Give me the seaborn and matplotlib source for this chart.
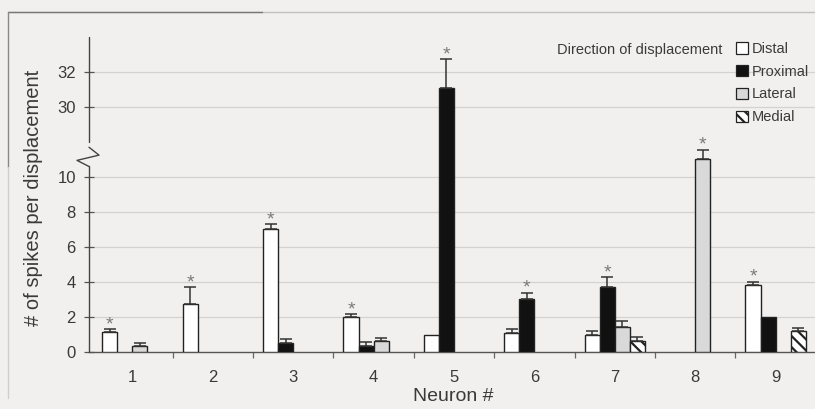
import numpy as np
import pandas as pd
import matplotlib
matplotlib.use("Agg")
import matplotlib.pyplot as plt
from matplotlib.patches import Patch
from matplotlib.lines import Line2D
import seaborn as sns

# ---- data -------------------------------------------------------------
neurons = ["1", "2", "3", "4", "5", "6", "7", "8", "9"]
directions = ["Distal", "Proximal", "Lateral", "Medial"]
nan = np.nan

distal = [1.15, 2.75, 7.0, 2.0, 1.0, 1.1, 1.0, nan, 3.85]
distal_err = [0.15, 0.95, 0.32, 0.16, nan, 0.2, 0.2, nan, 0.17]
proximal = [nan, nan, 0.53, 0.32, 31.07, 3.05, 3.7, nan, 2.0]
proximal_err = [nan, nan, 0.23, 0.28, 1.65, 0.34, 0.58, nan, nan]
lateral = [0.32, nan, nan, 0.64, nan, nan, 1.45, 11.0, nan]
lateral_err = [0.19, nan, nan, 0.16, nan, nan, 0.32, 0.57, nan]
medial = [nan, nan, nan, nan, nan, nan, 0.63, nan, 1.2]
medial_err = [nan, nan, nan, nan, nan, nan, 0.23, nan, 0.19]

# bars marked as significant (neuron, direction)
significant = [("1", "Distal"), ("2", "Distal"), ("3", "Distal"),
               ("4", "Distal"), ("5", "Proximal"), ("6", "Proximal"),
               ("7", "Proximal"), ("8", "Lateral"), ("9", "Distal")]

ytick_vals = [0, 2, 4, 6, 8, 10, 30, 32]

values = {"Distal": distal, "Proximal": proximal,
          "Lateral": lateral, "Medial": medial}
errors = {"Distal": distal_err, "Proximal": proximal_err,
          "Lateral": lateral_err, "Medial": medial_err}

rows = []
for d in directions:
    for n, v, e in zip(neurons, values[d], errors[d]):
        rows.append({"neuron": n, "direction": d, "value": v, "err": e})
df = pd.DataFrame(rows)

# ---- style ------------------------------------------------------------
BG = "#f2f0ef"
INK = "#3a3a3a"
sns.set_theme(style="white")
plt.rcParams["font.family"] = ["Liberation Sans", "DejaVu Sans"]
plt.rcParams["hatch.linewidth"] = 1.6
plt.rcParams["hatch.color"] = "#222222"

colors = {"Distal": "#ffffff", "Proximal": "#111111",
          "Lateral": "#d9d9d9", "Medial": "#ffffff"}

W, H = 815, 409
fig = plt.figure(figsize=(W / 100, H / 100), dpi=100, facecolor=BG)
ax = fig.add_axes([89 / W, 1 - 352 / H, 1 - 89 / W, (352 - 37) / H])
ax.set_facecolor(BG)

# broken y axis: values between LOW and HIGH are collapsed
LOW, HIGH = 11.7, 28.0
CUT = HIGH - LOW - 0.3


def fwd(v):
    v = np.asarray(v, dtype=float)
    return np.where(v <= LOW, v, np.where(v >= HIGH, v - CUT, LOW + (v - LOW) * 0.3 / (HIGH - LOW)))


def inv(t):
    t = np.asarray(t, dtype=float)
    return np.where(t <= LOW, t, np.where(t >= HIGH - CUT, t + CUT, LOW + (t - LOW) * (HIGH - LOW) / 0.3))


WIDTH = 0.75
sns.barplot(data=df, x="neuron", y="value", hue="direction",
            order=neurons, hue_order=directions, palette=colors,
            width=WIDTH, saturation=1, errorbar=None, legend=False,
            edgecolor="#222222", linewidth=1.0, ax=ax, zorder=3)

# hatch the medial bars
for patch in ax.containers[3]:
    patch.set_hatch("\\\\\\")
    patch.set_edgecolor("#222222")

ax.set_yscale("function", functions=(fwd, inv))
ax.set_ylim(0, 34)
ax.set_xlim(-0.54, 8.49)

# one-sided error bars and significance stars
bw = WIDTH / len(directions)
for j, d in enumerate(directions):
    off = (j - 1.5) * bw
    for i, n in enumerate(neurons):
        v = values[d][i]
        e = errors[d][i]
        if np.isnan(v):
            continue
        x = i + off
        top = v
        if not np.isnan(e):
            ax.errorbar([x], [v], yerr=[[0], [e]], fmt="none",
                        ecolor="#333333", elinewidth=1.1, capsize=4.3,
                        capthick=1.1, zorder=4)
            top = v + e
        if (n, d) in significant:
            ax.annotate("*", xy=(x, top), xytext=(0, -3),
                        textcoords="offset points", ha="center",
                        va="bottom", fontsize=14, color="#7a7a7a",
                        zorder=5)

# faint horizontal grid
for yv in ytick_vals[1:]:
    ax.axhline(yv, color="#d4d2d1", lw=0.9, zorder=0)

# axes lines
for s in ["top", "right", "left"]:
    ax.spines[s].set_visible(False)
ax.spines["bottom"].set_color("#555555")
ax.spines["bottom"].set_linewidth(1.0)

ax.set_yticks(ytick_vals, labels=[str(v) for v in ytick_vals])
ax.tick_params(axis="y", which="major", direction="inout", length=7,
               width=0.9, color="#555555", pad=6, labelsize=12,
               labelcolor=INK, left=True)
ax.tick_params(axis="x", which="major", length=0, pad=13, labelsize=12,
               labelcolor=INK)
ax.set_xticks(np.arange(0.5, 8.5, 1.0), minor=True)
ax.tick_params(axis="x", which="minor", direction="out", length=4,
               width=0.9, color="#666666", bottom=True)

# left axis drawn in two pieces with a zigzag break
trans = ax.get_yaxis_transform()
dx = 1.0 / (W - 89)
ax.add_line(Line2D([0, 0], [0, 10.6], transform=trans, color="#444444",
                   lw=1.0, clip_on=False, zorder=6))
ax.add_line(Line2D([0, 10 * dx, -12 * dx, 0], [LOW, 11.25, 10.95, 10.6],
                   transform=trans, color="#444444", lw=1.0,
                   clip_on=False, zorder=6))
ax.add_line(Line2D([0, 0], [HIGH, 34], transform=trans, color="#444444",
                   lw=1.0, clip_on=False, zorder=6))

ax.set_xlabel("Neuron #", fontsize=14, color=INK)
ax.xaxis.set_label_coords((453 - 89) / (W - 89), (352 - 388) / 315)
ax.set_ylabel("# of spikes per displacement", fontsize=14.5, color=INK)
ax.yaxis.set_label_coords((43 - 89) / (W - 89), 0.489)

# legend
handles = [Patch(facecolor=colors[d], edgecolor="#222222", linewidth=0.9,
                 hatch="\\\\\\" if d == "Medial" else None)
           for d in directions]
leg = fig.legend(handles, directions, loc="upper left",
                 bbox_to_anchor=(736 / W, 1 - 42 / H),
                 bbox_transform=fig.transFigure, frameon=False,
                 fontsize=10.5, handlelength=0.8, handleheight=0.8,
                 handletextpad=0.25, labelspacing=0.6, borderpad=0,
                 borderaxespad=0)
for t in leg.get_texts():
    t.set_color(INK)
fig.text(722 / W, 1 - 50 / H, "Direction of displacement", ha="right",
         va="center", fontsize=10.5, color=INK)

# outer frame of the panel
fig.add_artist(Line2D([8 / W, 1], [1 - 12 / H, 1 - 12 / H],
                      transform=fig.transFigure, color="#c2c0bf", lw=1))
fig.add_artist(Line2D([8 / W, 262 / W], [1 - 12 / H, 1 - 12 / H],
                      transform=fig.transFigure, color="#777777", lw=1))
fig.add_artist(Line2D([8 / W, 8 / W], [1 - 12 / H, 1 - 167 / H],
                      transform=fig.transFigure, color="#888888", lw=1))
fig.add_artist(Line2D([8 / W, 8 / W], [1 - 167 / H, 1 - 398 / H],
                      transform=fig.transFigure, color="#d0cecd", lw=1))

fig.savefig("out.png", dpi=100, facecolor=BG)
